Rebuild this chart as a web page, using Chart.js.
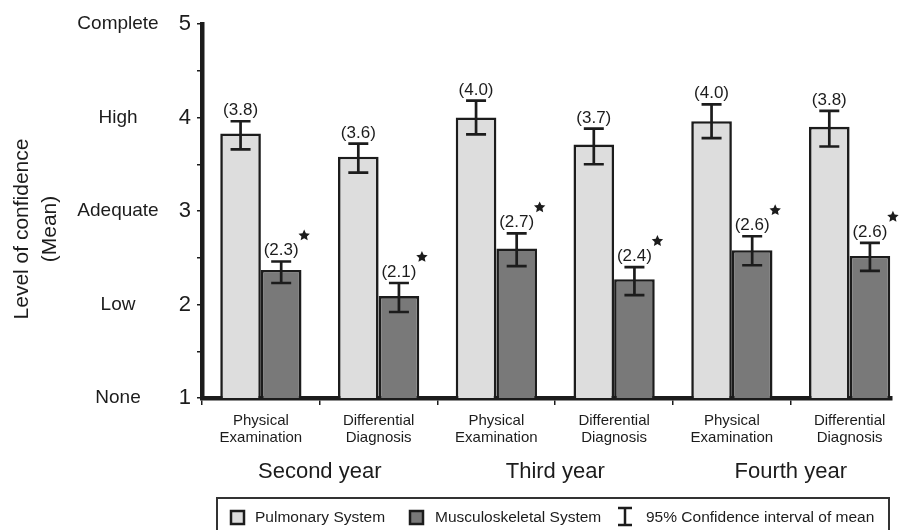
<!DOCTYPE html>
<html>
<head>
<meta charset="utf-8">
<script src="https://cdn.jsdelivr.net/npm/chart.js@4/dist/chart.umd.min.js"></script>
<style>
  html, body { margin: 0; padding: 0; background: #fff; overflow: hidden; }
  #wrap { width: 900px; height: 530px; }
</style>
</head>
<body>
<div id="wrap"><canvas id="chart" width="900" height="530"></canvas></div>
<script>
// categories
const skills = [['Physical', 'Examination'], ['Differential', 'Diagnosis'],
                ['Physical', 'Examination'], ['Differential', 'Diagnosis'],
                ['Physical', 'Examination'], ['Differential', 'Diagnosis']];
const years = ['Second year', 'Third year', 'Fourth year'];
const levelWords = ['None', 'Low', 'Adequate', 'High', 'Complete'];

// series (bar heights + 95% CI)
const pulmonary   = [3.83, 3.58, 4.00, 3.71, 3.96, 3.90];
const pulmonaryLo = [3.66, 3.41, 3.82, 3.50, 3.78, 3.69];
const pulmonaryHi = [3.96, 3.72, 4.18, 3.88, 4.14, 4.07];
const musculo     = [2.37, 2.09, 2.60, 2.27, 2.58, 2.52];
const musculoLo   = [2.23, 1.92, 2.41, 2.10, 2.42, 2.36];
const musculoHi   = [2.46, 2.23, 2.76, 2.40, 2.73, 2.66];

// printed means
const pulmonaryText = ['(3.8)', '(3.6)', '(4.0)', '(3.7)', '(4.0)', '(3.8)'];
const musculoText   = ['(2.3)', '(2.1)', '(2.7)', '(2.4)', '(2.6)', '(2.6)'];

const FONT = '"Liberation Sans", Arial, sans-serif';
const INK = '#1c1c1c';
const LIGHT = '#dddddd';
const DARK = '#797979';

function star(ctx, cx, cy, r) {
  ctx.beginPath();
  for (let k = 0; k < 10; k++) {
    const rad = k % 2 === 0 ? r : r * 0.48;
    const a = -Math.PI / 2 + k * Math.PI / 5;
    ctx.lineTo(cx + rad * Math.cos(a), cy + rad * Math.sin(a));
  }
  ctx.closePath();
  ctx.fill();
}

const extras = {
  id: 'extras',
  afterDatasetsDraw(chart) {
    const ctx = chart.ctx;
    const y = chart.scales.y;
    const sets = [
      { lo: pulmonaryLo, hi: pulmonaryHi, txt: pulmonaryText, mark: false },
      { lo: musculoLo, hi: musculoHi, txt: musculoText, mark: true }
    ];
    ctx.save();
    sets.forEach((s, d) => {
      chart.getDatasetMeta(d).data.forEach((el, i) => {
        const x = el.x;
        const yH = y.getPixelForValue(s.hi[i]);
        const yL = y.getPixelForValue(s.lo[i]);
        ctx.strokeStyle = INK;
        ctx.lineWidth = 2.7;
        ctx.beginPath();
        ctx.moveTo(x, yH); ctx.lineTo(x, yL);
        ctx.moveTo(x - 10, yH); ctx.lineTo(x + 10, yH);
        ctx.moveTo(x - 10, yL); ctx.lineTo(x + 10, yL);
        ctx.stroke();
        ctx.fillStyle = INK;
        ctx.font = '17px ' + FONT;
        ctx.textAlign = 'center';
        ctx.textBaseline = 'alphabetic';
        ctx.fillText(s.txt[i], x, yH - 6);
        if (s.mark) star(ctx, x + 23, yH - 26, 6);
      });
    });
    ctx.restore();
  },
  afterDraw(chart) {
    const ctx = chart.ctx;
    const x = chart.scales.x;
    const y = chart.scales.y;
    ctx.save();
    ctx.fillStyle = INK;
    ctx.textAlign = 'center';
    ctx.textBaseline = 'middle';

    // level words beside the numeric ticks
    ctx.font = '19px ' + FONT;
    levelWords.forEach((w, k) => ctx.fillText(w, 118, y.getPixelForValue(k + 1)));

    // y title
    ctx.save();
    ctx.translate(36, 229);
    ctx.rotate(-Math.PI / 2);
    ctx.font = '21px ' + FONT;
    ctx.fillText('Level of confidence', 0, -14);
    ctx.fillText('(Mean)', 0, 14);
    ctx.restore();

    // category and year labels
    ctx.font = '15px ' + FONT;
    skills.forEach((lines, i) => {
      const px = x.getPixelForValue(i + 1);
      ctx.fillText(lines[0], px, 421);
      ctx.fillText(lines[1], px, 438);
    });
    ctx.font = '22px ' + FONT;
    years.forEach((t, g) => ctx.fillText(t, x.getPixelForValue(1.5 + 2 * g), 472));

    // legend
    ctx.strokeStyle = '#333';
    ctx.lineWidth = 2;
    ctx.strokeRect(217, 498, 672, 40);
    ctx.strokeStyle = INK;
    ctx.lineWidth = 2.5;
    ctx.fillStyle = LIGHT;
    ctx.fillRect(231, 511, 13, 13); ctx.strokeRect(231, 511, 13, 13);
    ctx.fillStyle = DARK;
    ctx.fillRect(410, 511, 13, 13); ctx.strokeRect(410, 511, 13, 13);
    ctx.beginPath();
    ctx.moveTo(625, 508); ctx.lineTo(625, 525);
    ctx.moveTo(618, 508); ctx.lineTo(632, 508);
    ctx.moveTo(618, 525); ctx.lineTo(632, 525);
    ctx.stroke();
    ctx.fillStyle = INK;
    ctx.textAlign = 'left';
    ctx.font = '15.5px ' + FONT;
    ctx.fillText('Pulmonary System', 255, 518);
    ctx.fillText('Musculoskeletal System', 435, 518);
    ctx.fillText('95% Confidence interval of mean', 646, 518);
    ctx.restore();
  }
};

const boundaries = [0.5, 1.5, 2.5, 3.5, 4.5, 5.5];

new Chart(document.getElementById('chart'), {
  type: 'bar',
  data: {
    datasets: [
      {
        label: 'Pulmonary System',
        data: pulmonary.map((v, i) => ({ x: i + 1, y: v })),
        backgroundColor: LIGHT,
        borderColor: INK,
        borderWidth: 2.6
      },
      {
        label: 'Musculoskeletal System',
        data: musculo.map((v, i) => ({ x: i + 1, y: v })),
        backgroundColor: DARK,
        borderColor: INK,
        borderWidth: 2.6
      }
    ]
  },
  options: {
    responsive: false,
    animation: false,
    devicePixelRatio: 1,
    layout: { padding: { top: 24, right: 8, left: 0, bottom: 0 } },
    datasets: { bar: { categoryPercentage: 0.69, barPercentage: 1 } },
    plugins: { legend: { display: false }, tooltip: { enabled: false } },
    scales: {
      x: {
        type: 'linear',
        min: 0.5,
        max: 6.36,
        offset: false,
        afterBuildTicks: s => { s.ticks = boundaries.map(v => ({ value: v })); },
        afterFit: s => { s.height = 132; },
        ticks: { callback: () => '' },
        grid: { offset: false, drawOnChartArea: false, tickLength: 7, color: INK, lineWidth: 1.5 },
        border: { width: 4.5, color: INK }
      },
      y: {
        min: 1,
        max: 5,
        afterFit: s => { s.width = 202; },
        ticks: {
          stepSize: 0.5,
          padding: 6,
          color: INK,
          font: { family: FONT, size: 22 },
          callback: v => (v % 1 === 0 ? v : '')
        },
        grid: { drawOnChartArea: false, tickLength: 5, color: INK, lineWidth: 1.5 },
        border: { width: 4.5, color: INK }
      }
    }
  },
  plugins: [extras]
});
</script>
</body>
</html>
